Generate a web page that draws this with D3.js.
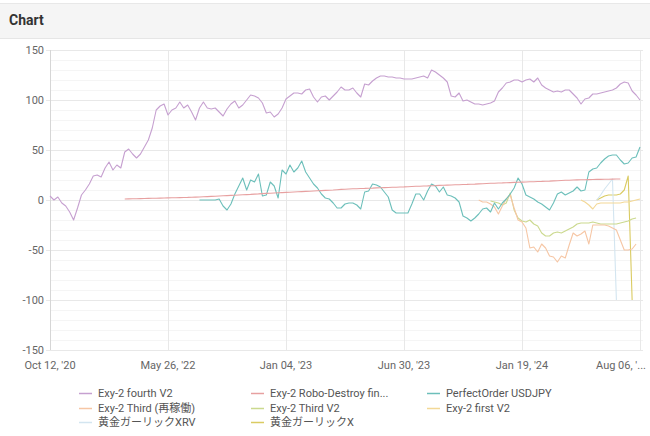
<!DOCTYPE html>
<html>
<head>
<meta charset="utf-8" />
<title>Chart</title>
<script src="https://cdn.jsdelivr.net/npm/d3@7"></script>
<style>
  body { margin: 0; background: #fff; }
  text { font-family: Roboto, "Noto Sans CJK JP", sans-serif; }
</style>
</head>
<body>
<script>
// x axis is an index axis, a tick label every 30 points
var tickLabels = ["Oct 12, '20", "May 26, '22", "Jan 04, '23", "Jun 30, '23", "Jan 19, '24", "Aug 06, '..."];
var tickEvery = 30;
var pointCount = 151;
var yTicks = [-150, -100, -50, 0, 50, 100, 150];

var names = ["Exy-2 fourth V2", "Exy-2 Robo-Destroy fin...", "PerfectOrder USDJPY",
             "Exy-2 Third (再稼働)", "Exy-2 Third V2", "Exy-2 first V2",
             "黄金ガーリックXRV", "黄金ガーリックX"];
var colors = ["#c6a0d0", "#e7a0a0", "#6cbfba", "#f6c6a4", "#cbd98e", "#f3d896", "#d3e5f0", "#dacb62"];
// first index of each series
var starts = [0, 19, 38, 109, 112, 135, 139, 139];

var fourthV2 = [4, 0, 3, -3, -6, -12, -20, -8, 5, 10, 16, 24, 25, 23, 32, 38, 30, 35, 32, 48,
  51, 46, 42, 46, 53, 60, 72, 90, 94, 96, 85, 90, 92, 98, 92, 95, 88, 80, 92, 98,
  92, 91, 92, 88, 84, 91, 96, 99, 92, 95, 100, 105, 104, 102, 97, 87, 88, 83, 86, 92,
  101, 104, 107, 107, 106, 110, 111, 103, 98, 103, 104, 100, 104, 108, 113, 110, 110, 112, 107, 103,
  116, 115, 119, 122, 124, 124, 123, 123, 122, 122, 121, 121, 121, 122, 123, 124, 122, 130, 128, 125,
  122, 118, 104, 103, 107, 99, 100, 98, 96, 96, 95, 96, 97, 99, 108, 112, 117, 118, 120, 120,
  118, 120, 121, 118, 122, 115, 112, 110, 108, 109, 108, 110, 110, 106, 102, 96, 101, 102, 106, 106,
  107, 108, 109, 110, 112, 116, 118, 117, 109, 105, 100];

var roboDestroy = [1.0, 1.1, 1.2, 1.3, 1.4, 1.5, 1.6, 1.7, 1.8, 1.9, 2.0, 2.1, 2.2, 2.3, 2.4, 2.5, 2.6, 2.8, 2.9,
  3.0, 3.2, 3.4, 3.6, 3.8, 4.0, 4.2, 4.4, 4.6, 4.8, 5.0, 5.2, 5.4, 5.6, 5.9, 6.1, 6.4, 6.6, 6.8,
  7.0, 7.2, 7.4, 7.6, 7.8, 8.0, 8.2, 8.4, 8.6, 8.8, 9.0, 9.2, 9.4, 9.6, 9.8, 10.0, 10.3, 10.6, 10.8,
  11.0, 11.2, 11.3, 11.5, 11.6, 11.8, 11.9, 12.1, 12.2, 12.4, 12.5, 12.7, 12.8, 13.0, 13.1, 13.3, 13.5, 13.7, 13.8,
  14.0, 14.1, 14.3, 14.4, 14.6, 14.7, 14.9, 15.0, 15.2, 15.3, 15.5, 15.6, 15.8, 15.9, 16.1, 16.3, 16.5, 16.7, 16.8,
  17.0, 17.1, 17.3, 17.4, 17.6, 17.7, 17.9, 18.0, 18.2, 18.3, 18.5, 18.6, 18.8, 18.9, 19.1, 19.3, 19.5, 19.7, 19.8,
  20.0, 20.1, 20.2, 20.3, 20.4, 20.5, 20.6, 20.6, 20.7, 20.8, 20.9, 21.0, 21.0];

var perfectOrder = [0, 0, 0, 0, 0, 1, -6, -10, -4, 6, 14, 22, 10, 20, 18, 26, 4, 5, 18, 14,
  2, 30, 26, 35, 28, 32, 39, 28, 22, 16, 12, 6, 2, 1, -3, -8, -8, -4, -3, -3,
  -5, -9, 8, 9, 16, 15, 13, 8, 3, -10, -13, -13, -13, -13, -4, 6, 6, 0, 9, 16,
  14, 8, 13, 5, 4, 2, -2, -16, -18, -21, -18, -14, -9, -8, -12, -3, -9, -3, 1, 6,
  12, 22, 16, 5, 3, 1, -2, -4, -7, -10, -3, 6, 8, 5, 7, 9, 13, 9, 10, 28,
  31, 32, 37, 41, 44, 45, 45, 40, 36, 37, 42, 43, 53];

var thirdRestart = [0, -2, -2, -4, -7, -14, -6, 1, 5, -8, -20, -22, -28, -48, -47, -52, -44, -48, -56, -57,
  -62, -56, -58, -45, -33, -36, -34, -31, -44, -25, -25, -25, -25, -26, -28, -30, -40, -50, -50, -49, -44];

var thirdV2 = [-1, -2, -3, -5, -3, 7, -10, -18, -21, -22, -20, -24, -26, -33, -36, -36, -33, -32, -33, -31,
  -29, -27, -24, -23, -23, -23, -22, -23, -24, -24, -24, -24, -24, -23, -22, -21, -19, -18];

var firstV2 = [0, -2, -5, -9, -4, -3, -3, -3, -3, -3, -3, -2, -2, -1, 0, 1];

var garlicXRV = [0, 5, 11, 16, 21, -100];

var garlicX = [0, 2, 4, 5, 5, 5, 6, 10, 24, -100];

var seriesValues = [fourthV2, roboDestroy, perfectOrder, thirdRestart, thirdV2, firstV2, garlicXRV, garlicX];

var W = 650, H = 436;
var plotLeft = 50, plotRight = 640, plotTop = 50, plotBottom = 350;

var svg = d3.select("body").append("svg")
    .attr("width", W)
    .attr("height", H);

// header band
svg.append("rect").attr("x", 0).attr("y", 3).attr("width", W).attr("height", 35).attr("fill", "#f5f5f5");
svg.append("line").attr("x1", 0).attr("x2", W).attr("y1", 3.5).attr("y2", 3.5).attr("stroke", "#e8e8e8");
svg.append("line").attr("x1", 0).attr("x2", W).attr("y1", 38.5).attr("y2", 38.5).attr("stroke", "#e6e6e6");
svg.append("text").attr("x", 9).attr("y", 25)
    .attr("font-size", "14px").attr("font-weight", "bold").attr("fill", "#333")
    .text("Chart");

var x = d3.scaleLinear().domain([0, pointCount - 1]).range([plotLeft, plotRight]);
var y = d3.scaleLinear().domain([-150, 150]).range([plotBottom, plotTop]);

// minor grid every 10
svg.append("g").selectAll("line")
    .data(d3.range(-150, 151, 10).filter(function (v) { return v % 50 != 0; }))
    .enter().append("line")
    .attr("x1", plotLeft).attr("x2", plotRight + 3)
    .attr("y1", function (d) { return Math.round(y(d)) + 0.5; })
    .attr("y2", function (d) { return Math.round(y(d)) + 0.5; })
    .attr("stroke", "#f5f5f5");

// major grid
svg.append("g").selectAll("line")
    .data(yTicks)
    .enter().append("line")
    .attr("x1", plotLeft - 4).attr("x2", plotRight + 3)
    .attr("y1", function (d) { return Math.round(y(d)) + 0.5; })
    .attr("y2", function (d) { return Math.round(y(d)) + 0.5; })
    .attr("stroke", "#e8e8e8");

var xTickIdx = tickLabels.map(function (d, i) { return i * tickEvery; });

svg.append("g").selectAll("line")
    .data(xTickIdx)
    .enter().append("line")
    .attr("x1", function (d) { return Math.round(x(d)) + 0.5; })
    .attr("x2", function (d) { return Math.round(x(d)) + 0.5; })
    .attr("y1", plotTop).attr("y2", plotBottom)
    .attr("stroke", function (d, i) { return i == 0 ? "#d6d6d6" : "#e8e8e8"; });

// y labels
svg.append("g").selectAll("text")
    .data(yTicks)
    .enter().append("text")
    .attr("x", 44)
    .attr("y", function (d) { return y(d); })
    .attr("dy", "0.35em")
    .attr("text-anchor", "end")
    .attr("font-size", "11px")
    .attr("fill", "#666")
    .text(function (d) { return d; });

// x labels
svg.append("g").selectAll("text")
    .data(xTickIdx)
    .enter().append("text")
    .attr("x", function (d, i) { return i == tickLabels.length - 1 ? 646 : x(d); })
    .attr("y", 369)
    .attr("text-anchor", function (d, i) { return i == tickLabels.length - 1 ? "end" : "middle"; })
    .attr("font-size", "11px")
    .attr("fill", "#666")
    .text(function (d, i) { return tickLabels[i]; });

// lines, drawn last series first so the purple stays on top
var line = d3.line()
    .x(function (d) { return x(d.i); })
    .y(function (d) { return y(d.v); });

for (var s = seriesValues.length - 1; s >= 0; s--) {
    var pts = seriesValues[s].map(function (v, k) { return { i: starts[s] + k, v: v }; });
    svg.append("path")
        .datum(pts)
        .attr("d", line)
        .attr("fill", "none")
        .attr("stroke", colors[s])
        .attr("stroke-width", 1.1)
        .attr("stroke-linejoin", "round");
}

// legend
var colX = [79, 251, 427];
var rowY = [393, 408, 422];
var legend = svg.append("g").selectAll("g")
    .data(names)
    .enter().append("g")
    .attr("transform", function (d, i) {
        return "translate(" + colX[i % 3] + "," + rowY[Math.floor(i / 3)] + ")";
    });
legend.append("line")
    .attr("x1", 0).attr("x2", 13).attr("y1", 0.5).attr("y2", 0.5)
    .attr("stroke", function (d, i) { return colors[i]; })
    .attr("stroke-width", 1.5);
legend.append("text")
    .attr("x", 19).attr("y", 0).attr("dy", "0.35em")
    .attr("font-size", "11px")
    .attr("fill", "#555")
    .text(function (d) { return d; });
</script>
</body>
</html>
